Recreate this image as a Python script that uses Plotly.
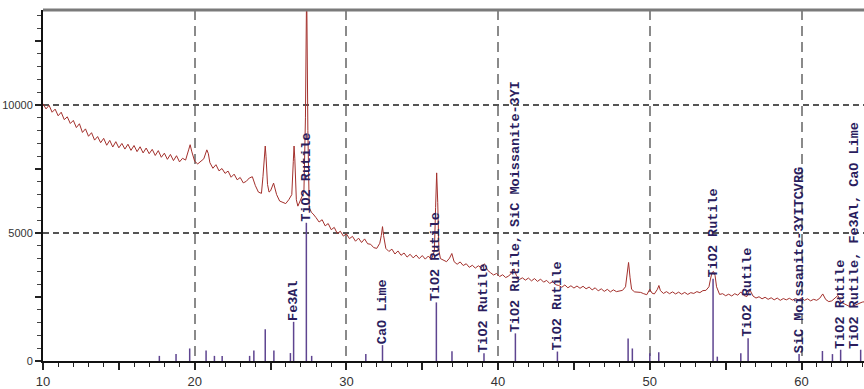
import plotly.graph_objects as go

# ---- measured pattern (2-theta, intensity) ----
two_theta = [
    10.0, 10.2, 10.4, 10.6, 10.8, 11.0, 11.2, 11.4, 11.6, 11.8,
    12.0, 12.2, 12.4, 12.6, 12.8, 13.0, 13.2, 13.4, 13.6, 13.8,
    14.0, 14.2, 14.4, 14.6, 14.8, 15.0, 15.2, 15.4, 15.6, 15.8,
    16.0, 16.2, 16.4, 16.6, 16.8, 17.0, 17.2, 17.4, 17.6, 17.8,
    18.0, 18.2, 18.4, 18.6, 18.8, 19.0, 19.2, 19.4, 19.6, 19.7,
    19.8, 20.0, 20.2, 20.4, 20.6, 20.8, 20.9, 21.0, 21.2, 21.4,
    21.6, 21.8, 22.0, 22.2, 22.4, 22.6, 22.8, 23.0, 23.2, 23.4,
    23.6, 23.8, 24.0, 24.2, 24.4, 24.5, 24.6, 24.65, 24.7, 24.8,
    24.9, 25.0, 25.2, 25.4, 25.6, 25.8, 26.0, 26.2, 26.4, 26.5,
    26.55, 26.6, 26.7, 26.8, 27.0, 27.2, 27.3, 27.38, 27.46, 27.55,
    27.7, 27.8, 28.0, 28.2, 28.4, 28.6, 28.8, 29.0, 29.2, 29.4,
    29.6, 29.8, 30.0, 30.2, 30.4, 30.6, 30.8, 31.0, 31.2, 31.4,
    31.6, 31.8, 32.0, 32.2, 32.3, 32.38, 32.45, 32.6, 32.8, 33.0,
    33.2, 33.4, 33.6, 33.8, 34.0, 34.2, 34.4, 34.6, 34.8, 35.0,
    35.2, 35.4, 35.6, 35.8, 35.88, 35.95, 36.02, 36.1, 36.2, 36.4,
    36.6, 36.8, 36.95, 37.1, 37.3, 37.5, 37.7, 37.9, 38.1, 38.3,
    38.5, 38.7, 38.9, 39.1, 39.3, 39.5, 39.7, 39.9, 40.1, 40.3,
    40.5, 40.7, 40.9, 41.05, 41.2, 41.4, 41.6, 41.8, 42.0, 42.2,
    42.4, 42.6, 42.8, 43.0, 43.2, 43.4, 43.6, 43.8, 44.0, 44.2,
    44.4, 44.6, 44.8, 45.0, 45.2, 45.4, 45.6, 45.8, 46.0, 46.2,
    46.4, 46.6, 46.8, 47.0, 47.2, 47.4, 47.6, 47.8, 48.0, 48.2,
    48.4, 48.5, 48.6, 48.7, 48.8, 49.0, 49.2, 49.4, 49.6, 49.8,
    50.0, 50.15, 50.3, 50.5, 50.6, 50.7, 50.9, 51.1, 51.3, 51.5,
    51.7, 51.9, 52.1, 52.3, 52.5, 52.7, 52.9, 53.1, 53.3, 53.5,
    53.7, 53.9, 54.0, 54.1, 54.2, 54.3, 54.4, 54.6, 54.8, 55.0,
    55.2, 55.4, 55.6, 55.8, 56.0, 56.2, 56.4, 56.6, 56.8, 57.0,
    57.2, 57.4, 57.6, 57.8, 58.0, 58.2, 58.4, 58.6, 58.8, 59.0,
    59.2, 59.4, 59.6, 59.8, 60.0, 60.2, 60.4, 60.6, 60.8, 61.0,
    61.2, 61.4, 61.6, 61.8, 62.0, 62.2, 62.4, 62.6, 62.8, 63.0,
    63.2, 63.4, 63.6, 63.8, 64.0, 64.2,
]
intensity = [
    10050, 9850, 9990, 9720, 9840, 9580, 9720, 9430, 9540, 9280,
    9400, 9120, 9270, 8930, 9070, 8780, 8920, 8630, 8770, 8530,
    8700, 8430, 8620, 8360, 8570, 8330, 8500, 8280, 8470, 8230,
    8420, 8180, 8370, 8130, 8320, 8100, 8270, 8030, 8220, 7960,
    8120, 7880, 8070, 7830, 8020, 7780, 7920, 7850, 8250, 8450,
    8200, 7800, 7700, 7820, 7900, 8250, 8100, 7750, 7530, 7670,
    7430, 7520, 7330, 7420, 7180, 7300, 7080, 7170, 6960, 7020,
    7150, 7200, 6850, 6600, 6550, 7200, 8200, 8400, 8000, 6900,
    6600, 6650, 6950, 6500, 6250, 6200, 6150, 6300, 6500, 7800,
    8400, 7900, 6300, 6050, 6300, 6600, 9500, 14800, 9000, 6000,
    5800, 5750, 5600, 5430, 5520, 5280, 5370, 5130, 5220, 4980,
    5070, 4880, 4970, 4780, 4870, 4680, 4800, 4630, 4770, 4580,
    4560, 4430, 4400, 4600, 4900, 5250, 4900, 4400, 4280, 4370,
    4180, 4300, 4130, 4220, 4060, 4170, 4030, 4140, 4000, 4120,
    3980, 4100, 3960, 4300, 6000, 7350, 6200, 4300, 4000, 3950,
    3880, 4020, 4200, 3880, 3780, 3870, 3730, 3800, 3660, 3740,
    3630, 3720, 3640, 3800, 3550, 3450, 3360, 3420, 3300, 3370,
    3260, 3320, 3450, 3600, 3350, 3180, 3250, 3160, 3240, 3130,
    3220, 3110, 3200, 3080, 3150, 3030, 3100, 2980, 2950, 2880,
    2970, 2860, 2940, 2850, 2930, 2840, 2920, 2820, 2890, 2780,
    2860, 2740, 2820, 2720, 2800, 2700, 2780, 2710, 2750, 2760,
    2900, 3300, 3850, 3250, 2800, 2700, 2690, 2680, 2630, 2590,
    2800, 2650, 2620, 2800, 2950, 2750, 2640, 2710, 2630, 2700,
    2620, 2690, 2610, 2680, 2600, 2670, 2640, 2710, 2670, 2750,
    2760, 2900, 3200, 3450, 3500, 3350, 2900, 2600, 2630, 2550,
    2610, 2540, 2630, 2570, 2700, 2560, 2520, 2780, 2540, 2460,
    2510, 2430, 2490, 2410, 2470, 2390, 2460, 2370, 2440, 2390,
    2450, 2380, 2440, 2390, 2450, 2370, 2430, 2350, 2410, 2370,
    2450, 2620, 2400, 2320, 2350, 2450, 2560, 2300, 2240, 2200,
    2120, 2150, 2200, 2260, 2300, 2320,
]

# ---- reference (stick) pattern ----
ref_pos = [17.67, 18.77, 19.67, 20.75, 21.30, 21.81, 23.62, 23.90, 24.65, 25.22,
           26.31, 26.52, 27.36, 27.71, 31.28, 32.38, 35.93, 36.96, 39.07, 41.14,
           43.91, 48.57, 48.85, 50.0, 50.59, 54.17, 54.45, 56.0, 56.48, 59.84,
           61.38, 62.04, 62.58, 63.9]
ref_height = [200, 270, 490, 410, 200, 200, 200, 410, 1240, 410,
              310, 1530, 5400, 200, 270, 620, 2290, 380, 300, 1080,
              370, 880, 490, 300, 340, 3210, 170, 300, 890, 270,
              390, 270, 440, 440]
ref_label = ["", "", "", "", "", "", "", "", "", "",
             "", "Fe3Al", "TiO2 Rutile", "", "", "CaO Lime", "TiO2 Rutile", "", "TiO2 Rutile",
             "TiO2 Rutile, SiC Moissanite-3YI",
             "TiO2 Rutile", "", "", "", "", "TiO2 Rutile", "", "", "TiO2 Rutile",
             "SiC Moissanite-3YITCVRG",
             "", "", "TiO2 Rutile", "TiO2 Rutile, Fe3Al, CaO Lime"]

x_major = [10, 15, 20, 25, 30, 35, 40, 45, 50, 55, 60]
x_major_text = ["10", "", "20", "", "30", "", "40", "", "50", "", "60"]
x_grid = [20, 30, 40, 50, 60]
y_major = [0, 2500, 5000, 7500, 10000, 12500]
y_major_text = ["0", "", "5000", "", "10000", ""]
y_grid = [5000, 10000]

X_RANGE = [10, 64.12]
Y_RANGE = [0, 13714]

LINE_COLOR = "#a3302c"
STICK_COLOR = "#5e4490"
LABEL_COLOR = "#2a1d5e"

fig = go.Figure()

# stick pattern
sx, sy = [], []
for p, h in zip(ref_pos, ref_height):
    sx += [p, p, None]
    sy += [0, h, None]
fig.add_trace(go.Scatter(x=sx, y=sy, mode="lines",
                         line=dict(color=STICK_COLOR, width=1.5),
                         hoverinfo="skip", showlegend=False))

# measured pattern
fig.add_trace(go.Scatter(x=two_theta, y=intensity, mode="lines",
                         line=dict(color=LINE_COLOR, width=1),
                         showlegend=False))

# invisible trace for grid axes
fig.add_trace(go.Scatter(x=[X_RANGE[0]], y=[Y_RANGE[0]], xaxis="x2", yaxis="y2",
                         mode="markers", marker=dict(opacity=0),
                         hoverinfo="skip", showlegend=False))

n_lab = len([l for l in ref_label if l])
k = 0
for p, h, lab in zip(ref_pos, ref_height, ref_label):
    if lab:
        k += 1
        fig.add_annotation(x=p, y=h, text=lab, textangle=-90, showarrow=False,
                           xanchor="center", yanchor="bottom", borderpad=0,
                           xshift=(-6 if k == n_lab else 0),
                           font=dict(family="Liberation Mono, Courier New, monospace",
                                     size=13.5, color=LABEL_COLOR, weight="bold"))

fig.update_layout(
    width=864, height=389,
    margin=dict(l=43, r=0, t=10, b=26),
    paper_bgcolor="white", plot_bgcolor="white",
    xaxis=dict(range=X_RANGE, tickmode="array", tickvals=x_major, ticktext=x_major_text,
               ticks="outside", ticklen=7, tickwidth=1.5, tickcolor="#222",
               showline=True, linecolor="#111", linewidth=2, showgrid=False,
               zeroline=False,
               minor=dict(dtick=1, tick0=10, ticks="outside", ticklen=4,
                          tickwidth=1, tickcolor="#222", showgrid=False),
               tickfont=dict(family="Liberation Sans Narrow, Arial Narrow, Liberation Sans, sans-serif",
                             size=13, color="#333")),
    yaxis=dict(range=Y_RANGE, tickmode="array", tickvals=y_major, ticktext=y_major_text,
               ticks="outside", ticklen=6, tickwidth=1.5, tickcolor="#222",
               showline=True, linecolor="#111", linewidth=2, showgrid=False,
               zeroline=False,
               minor=dict(dtick=500, tick0=0, ticks="outside", ticklen=4,
                          tickwidth=1, tickcolor="#444", showgrid=False),
               tickfont=dict(family="Liberation Sans Narrow, Arial Narrow, Liberation Sans, sans-serif",
                             size=11, color="#333")),
    xaxis2=dict(range=X_RANGE, overlaying="x", tickmode="array", tickvals=x_grid,
                showticklabels=False, ticks="", showgrid=True, gridcolor="#8a8a8a",
                gridwidth=1.5, griddash="10px,6px", zeroline=False, showline=False),
    yaxis2=dict(range=Y_RANGE, overlaying="y", tickmode="array", tickvals=y_grid,
                showticklabels=False, ticks="", showgrid=True, gridcolor="#555",
                gridwidth=1.5, griddash="6px,4px", zeroline=False, showline=False),
    hovermode=False,
    shapes=[dict(type="line", xref="paper", yref="paper", x0=0, x1=1, y0=1, y1=1,
                 line=dict(color="#7a7a7a", width=3))],
)

fig.write_html("out.html")
